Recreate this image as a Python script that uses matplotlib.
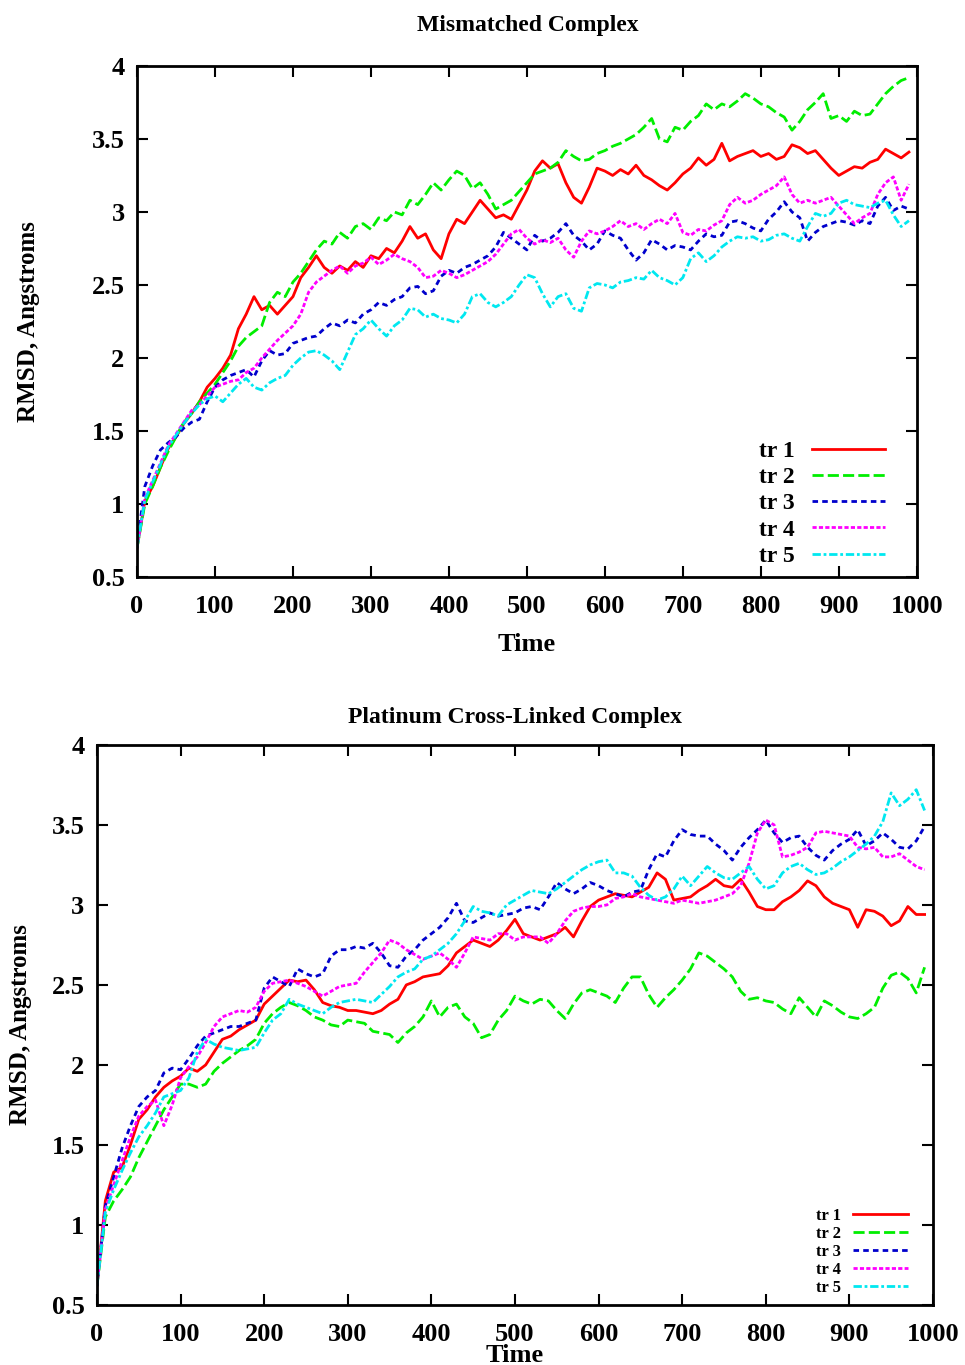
import matplotlib
matplotlib.use("Agg")
import matplotlib.pyplot as plt
import numpy as np

plt.rcParams['font.family'] = ['Liberation Serif', 'DejaVu Serif']
plt.rcParams['font.weight'] = 'bold'

time = list(range(0, 1000, 10))

# Mismatched complex
mm_tr1 = [0.70, 1.02, 1.12, 1.25, 1.38, 1.46, 1.55, 1.62, 1.70, 1.80, 1.86, 1.93, 2.02, 2.20, 2.30, 2.42, 2.33, 2.36, 2.30, 2.36,
          2.42, 2.55, 2.62, 2.70, 2.62, 2.58, 2.63, 2.60, 2.66, 2.62, 2.70, 2.68, 2.75, 2.72, 2.80, 2.90, 2.82, 2.85, 2.74, 2.68,
          2.85, 2.95, 2.92, 3.00, 3.08, 3.02, 2.96, 2.98, 2.95, 3.05, 3.15, 3.28, 3.35, 3.30, 3.33, 3.20, 3.10, 3.06, 3.17, 3.30,
          3.28, 3.25, 3.29, 3.26, 3.32, 3.25, 3.22, 3.18, 3.15, 3.20, 3.26, 3.30, 3.37, 3.32, 3.36, 3.47, 3.35, 3.38, 3.40, 3.42,
          3.38, 3.40, 3.36, 3.38, 3.46, 3.44, 3.40, 3.42, 3.36, 3.30, 3.25, 3.28, 3.31, 3.30, 3.34, 3.36, 3.43, 3.40, 3.37, 3.41]
mm_tr2 = [0.70, 1.00, 1.12, 1.25, 1.36, 1.46, 1.56, 1.62, 1.70, 1.76, 1.82, 1.90, 1.98, 2.08, 2.14, 2.18, 2.22, 2.38, 2.45, 2.42,
          2.52, 2.58, 2.66, 2.74, 2.80, 2.78, 2.86, 2.82, 2.90, 2.92, 2.88, 2.96, 2.94, 3.00, 2.98, 3.08, 3.05, 3.12, 3.20, 3.15,
          3.22, 3.28, 3.25, 3.16, 3.20, 3.12, 3.02, 3.05, 3.08, 3.14, 3.20, 3.26, 3.28, 3.30, 3.34, 3.42, 3.38, 3.35, 3.36, 3.40,
          3.42, 3.45, 3.47, 3.50, 3.53, 3.58, 3.64, 3.50, 3.48, 3.58, 3.56, 3.62, 3.66, 3.74, 3.70, 3.74, 3.72, 3.76, 3.81, 3.78,
          3.74, 3.72, 3.68, 3.65, 3.56, 3.62, 3.70, 3.75, 3.81, 3.64, 3.66, 3.62, 3.69, 3.66, 3.67, 3.74, 3.81, 3.86, 3.90, 3.92]
mm_tr3 = [0.72, 1.12, 1.26, 1.37, 1.42, 1.46, 1.52, 1.56, 1.58, 1.70, 1.80, 1.85, 1.88, 1.90, 1.92, 1.87, 1.98, 2.05, 2.02, 2.03,
          2.10, 2.12, 2.14, 2.15, 2.20, 2.24, 2.22, 2.26, 2.24, 2.30, 2.33, 2.38, 2.36, 2.40, 2.42, 2.48, 2.49, 2.44, 2.46, 2.56,
          2.60, 2.58, 2.62, 2.64, 2.67, 2.70, 2.76, 2.86, 2.82, 2.78, 2.74, 2.84, 2.80, 2.82, 2.86, 2.92, 2.84, 2.80, 2.74, 2.78,
          2.87, 2.84, 2.82, 2.74, 2.67, 2.72, 2.81, 2.78, 2.74, 2.77, 2.76, 2.74, 2.80, 2.85, 2.83, 2.84, 2.93, 2.94, 2.92, 2.89,
          2.87, 2.95, 3.00, 3.07, 3.00, 2.96, 2.80, 2.86, 2.90, 2.92, 2.94, 2.93, 2.91, 2.94, 2.92, 3.04, 3.10, 3.01, 3.04, 3.02]
mm_tr4 = [0.70, 1.04, 1.16, 1.28, 1.40, 1.48, 1.56, 1.64, 1.68, 1.74, 1.80, 1.82, 1.84, 1.85, 1.90, 1.93, 2.00, 2.06, 2.12, 2.17,
          2.22, 2.30, 2.45, 2.52, 2.56, 2.60, 2.63, 2.58, 2.63, 2.65, 2.69, 2.64, 2.67, 2.71, 2.68, 2.66, 2.62, 2.55, 2.56, 2.60,
          2.58, 2.55, 2.57, 2.60, 2.63, 2.66, 2.71, 2.78, 2.85, 2.88, 2.82, 2.78, 2.81, 2.79, 2.82, 2.74, 2.69, 2.80, 2.87, 2.85,
          2.87, 2.90, 2.94, 2.90, 2.92, 2.88, 2.92, 2.95, 2.92, 2.99, 2.86, 2.84, 2.88, 2.87, 2.91, 2.94, 3.05, 3.10, 3.06, 3.08,
          3.12, 3.15, 3.18, 3.24, 3.12, 3.06, 3.08, 3.06, 3.08, 3.10, 3.04, 2.98, 2.92, 2.96, 2.99, 3.12, 3.20, 3.24, 3.08, 3.19]
mm_tr5 = [0.70, 1.03, 1.15, 1.27, 1.39, 1.47, 1.55, 1.62, 1.68, 1.72, 1.74, 1.70, 1.76, 1.82, 1.86, 1.80, 1.78, 1.83, 1.86, 1.88,
          1.95, 2.00, 2.04, 2.05, 2.02, 1.98, 1.92, 2.04, 2.16, 2.20, 2.26, 2.20, 2.15, 2.22, 2.26, 2.34, 2.33, 2.28, 2.30, 2.27,
          2.26, 2.24, 2.30, 2.42, 2.44, 2.38, 2.35, 2.38, 2.42, 2.50, 2.57, 2.55, 2.44, 2.35, 2.42, 2.44, 2.34, 2.32, 2.48, 2.51,
          2.50, 2.48, 2.52, 2.53, 2.55, 2.54, 2.60, 2.55, 2.53, 2.50, 2.55, 2.68, 2.72, 2.66, 2.70, 2.76, 2.80, 2.83, 2.82, 2.83,
          2.80, 2.81, 2.84, 2.85, 2.82, 2.80, 2.90, 2.99, 2.97, 2.99, 3.06, 3.08, 3.05, 3.04, 3.03, 3.06, 3.08, 2.98, 2.90, 2.94]

# Platinum cross-linked complex
pt_tr1 = [0.62, 1.15, 1.33, 1.36, 1.50, 1.66, 1.72, 1.80, 1.86, 1.90, 1.93, 1.98, 1.96, 2.00, 2.08, 2.16, 2.18, 2.22, 2.25, 2.28,
          2.38, 2.43, 2.48, 2.53, 2.52, 2.53, 2.47, 2.39, 2.37, 2.36, 2.34, 2.34, 2.33, 2.32, 2.34, 2.38, 2.41, 2.50, 2.52, 2.55,
          2.56, 2.57, 2.62, 2.70, 2.74, 2.78, 2.76, 2.74, 2.78, 2.84, 2.91, 2.82, 2.80, 2.78, 2.80, 2.82, 2.86, 2.80, 2.90, 2.99,
          3.03, 3.05, 3.07, 3.06, 3.05, 3.08, 3.11, 3.20, 3.16, 3.03, 3.04, 3.05, 3.09, 3.12, 3.16, 3.12, 3.11, 3.16, 3.08, 2.99,
          2.97, 2.97, 3.02, 3.05, 3.09, 3.15, 3.12, 3.05, 3.01, 2.99, 2.97, 2.86, 2.97, 2.96, 2.93, 2.87, 2.90, 2.99, 2.94, 2.94]
pt_tr2 = [0.62, 1.05, 1.15, 1.22, 1.30, 1.42, 1.52, 1.62, 1.72, 1.80, 1.88, 1.88, 1.86, 1.88, 1.96, 2.01, 2.05, 2.09, 2.12, 2.16,
          2.26, 2.32, 2.36, 2.39, 2.37, 2.34, 2.30, 2.28, 2.25, 2.24, 2.28, 2.27, 2.26, 2.21, 2.20, 2.19, 2.14, 2.20, 2.24, 2.30,
          2.40, 2.30, 2.36, 2.38, 2.30, 2.26, 2.17, 2.19, 2.28, 2.34, 2.43, 2.40, 2.38, 2.41, 2.40, 2.34, 2.29, 2.38, 2.45, 2.47,
          2.45, 2.43, 2.39, 2.48, 2.55, 2.55, 2.44, 2.36, 2.42, 2.47, 2.53, 2.60, 2.70, 2.68, 2.64, 2.60, 2.55, 2.46, 2.41, 2.42,
          2.40, 2.39, 2.35, 2.32, 2.42, 2.36, 2.30, 2.40, 2.37, 2.33, 2.30, 2.29, 2.32, 2.36, 2.48, 2.56, 2.58, 2.54, 2.45, 2.61]
pt_tr3 = [0.62, 1.12, 1.30, 1.48, 1.62, 1.74, 1.80, 1.84, 1.95, 1.98, 1.97, 2.04, 2.12, 2.18, 2.20, 2.22, 2.24, 2.24, 2.26, 2.28,
          2.48, 2.55, 2.52, 2.49, 2.60, 2.57, 2.55, 2.57, 2.68, 2.72, 2.72, 2.74, 2.73, 2.76, 2.70, 2.62, 2.61, 2.68, 2.72, 2.78,
          2.82, 2.86, 2.92, 3.01, 2.90, 2.89, 2.92, 2.95, 2.93, 2.94, 2.95, 2.98, 2.99, 2.97, 3.05, 3.14, 3.10, 3.07, 3.10, 3.14,
          3.12, 3.09, 3.07, 3.05, 3.08, 3.09, 3.22, 3.32, 3.30, 3.40, 3.47, 3.44, 3.43, 3.43, 3.38, 3.34, 3.28, 3.36, 3.42, 3.47,
          3.53, 3.45, 3.39, 3.42, 3.43, 3.36, 3.31, 3.28, 3.34, 3.38, 3.41, 3.47, 3.37, 3.40, 3.45, 3.41, 3.36, 3.35, 3.40, 3.49]
pt_tr4 = [0.62, 1.10, 1.25, 1.40, 1.55, 1.68, 1.74, 1.78, 1.62, 1.75, 1.92, 1.99, 2.05, 2.14, 2.24, 2.30, 2.32, 2.34, 2.33, 2.36,
          2.46, 2.51, 2.52, 2.53, 2.51, 2.49, 2.46, 2.43, 2.46, 2.49, 2.50, 2.51, 2.58, 2.64, 2.70, 2.78, 2.76, 2.72, 2.69, 2.66,
          2.68, 2.70, 2.66, 2.61, 2.70, 2.80, 2.79, 2.78, 2.82, 2.82, 2.78, 2.80, 2.80, 2.80, 2.76, 2.82, 2.90, 2.96, 2.98, 2.99,
          2.99, 3.00, 3.04, 3.05, 3.07, 3.05, 3.04, 3.03, 3.02, 3.01, 3.03, 3.02, 3.01, 3.02, 3.03, 3.05, 3.07, 3.12, 3.26, 3.45,
          3.53, 3.50, 3.30, 3.31, 3.33, 3.36, 3.45, 3.46, 3.45, 3.44, 3.43, 3.36, 3.35, 3.36, 3.30, 3.30, 3.32, 3.28, 3.24, 3.22]
pt_tr5 = [0.62, 1.08, 1.22, 1.34, 1.45, 1.55, 1.62, 1.70, 1.80, 1.82, 1.84, 1.92, 2.08, 2.16, 2.13, 2.11, 2.10, 2.09, 2.10, 2.11,
          2.20, 2.28, 2.32, 2.41, 2.38, 2.36, 2.34, 2.32, 2.36, 2.39, 2.40, 2.41, 2.40, 2.39, 2.44, 2.49, 2.55, 2.58, 2.60, 2.66,
          2.68, 2.72, 2.76, 2.82, 2.90, 2.99, 2.96, 2.95, 2.93, 3.00, 3.03, 3.06, 3.09, 3.08, 3.07, 3.10, 3.14, 3.18, 3.22, 3.25,
          3.27, 3.28, 3.20, 3.20, 3.18, 3.11, 3.06, 3.03, 3.05, 3.10, 3.18, 3.12, 3.18, 3.24, 3.20, 3.17, 3.16, 3.20, 3.24, 3.16,
          3.10, 3.12, 3.20, 3.24, 3.26, 3.22, 3.19, 3.20, 3.23, 3.27, 3.30, 3.34, 3.38, 3.43, 3.52, 3.70, 3.62, 3.66, 3.72, 3.59]

labels = ["tr 1", "tr 2", "tr 3", "tr 4", "tr 5"]
colors = ["#ff0000", "#00ee00", "#0000cc", "#ff00ff", "#00e8f0"]
dashes = [None, (4, 1.5), (2, 1.5), (1.5, 0.8), (3, 1, 1, 1)]

xticks = list(range(0, 1001, 100))
yticks = [0.5, 1, 1.5, 2, 2.5, 3, 3.5, 4]
ylabels = ["0.5", "1", "1.5", "2", "2.5", "3", "3.5", "4"]

fig = plt.figure(figsize=(9.65, 13.65), dpi=100)
ax1 = fig.add_axes([0.142, 0.5773, 0.808, 0.3744])
ax2 = fig.add_axes([0.1005, 0.0440, 0.8663, 0.4103])


def draw(ax, series, ylab_x, xlab_y, leg_size, leg_handle, leg_space, leg_anchor):
    for s, lab, c, d in zip(series, labels, colors, dashes):
        line, = ax.plot(time, s, color=c, lw=2.0, label=lab)
        if d is not None:
            line.set_dashes(d)
    ax.set_xlim(0, 1000)
    ax.set_ylim(0.5, 4)
    ax.set_xticks(xticks)
    ax.set_yticks(yticks)
    ax.set_yticklabels(ylabels)
    ax.tick_params(direction="in", length=8, width=1.5, top=True, right=True,
                   labelsize=19)
    ax.tick_params(axis="x", pad=13)
    ax.tick_params(axis="y", pad=9)
    for sp in ax.spines.values():
        sp.set_linewidth(2)
    ax.set_xlabel("Time", fontsize=19, fontweight="bold")
    ax.set_ylabel("RMSD, Angstroms", fontsize=18, fontweight="bold")
    ax.xaxis.set_label_coords(0.5, xlab_y)
    ax.yaxis.set_label_coords(ylab_x, 0.5)
    ax.legend(loc="lower right", bbox_to_anchor=leg_anchor, frameon=False, markerfirst=False,
              fontsize=leg_size, handlelength=leg_handle, labelspacing=leg_space,
              borderaxespad=0, borderpad=0, handletextpad=0.7)


draw(ax1, [mm_tr1, mm_tr2, mm_tr3, mm_tr4, mm_tr5], -0.124, -0.11, 17, 3.1, 0.2, (0.959, 0.02))
draw(ax2, [pt_tr1, pt_tr2, pt_tr3, pt_tr4, pt_tr5], -0.078, -0.07, 12, 3.3, 0.12, (0.97, 0.016))

fig.text(528 / 965, 1 - 26 / 1365, "Mismatched Complex", fontsize=17, fontweight="bold",
         ha="center", va="center")
fig.text(515 / 965, 1 - 718 / 1365, "Platinum Cross-Linked Complex", fontsize=17, fontweight="bold",
         ha="center", va="center")

fig.savefig("out.png", dpi=100)
